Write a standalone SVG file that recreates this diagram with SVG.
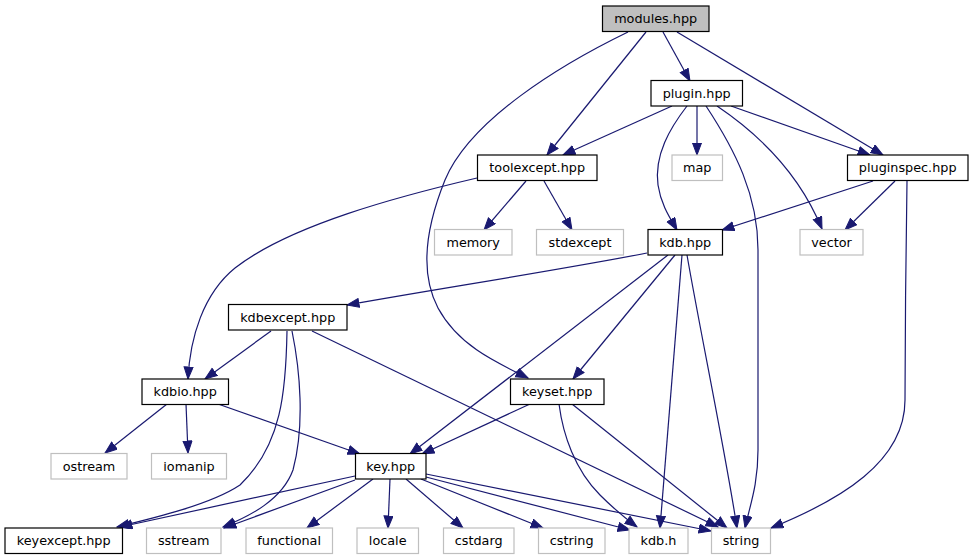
<svg xmlns="http://www.w3.org/2000/svg" width="973" height="560" viewBox="0 0 973 560">
<style>
.n rect{fill:#ffffff;stroke:#000000;stroke-width:1.2}
.n.g rect{stroke:#bfbfbf}
.n.r rect{fill:#bfbfbf}
.n text{font-family:"DejaVu Sans","Liberation Sans",sans-serif;font-size:12.8px;fill:#000000;text-anchor:middle}
#edges path{fill:none;stroke:#191970;stroke-width:1.2;marker-end:url(#a)}
</style>
<defs>
<marker id="a" markerWidth="14" markerHeight="11" refX="12.5" refY="5" orient="auto" markerUnits="userSpaceOnUse">
<path d="M0.5,0.5 L12.5,5 L0.5,9.5 z" fill="#191970" stroke="#191970" stroke-width="1"/>
</marker>
</defs>
<rect width="973" height="560" fill="#ffffff"/>
<g id="edges">
<path d="M628,32 C560,65 470,120 445,180 C428,222 418,270 438,308 C458,345 495,362 528,378"/>
<path d="M646,32 L547,155"/>
<path d="M663,32 L690,81"/>
<path d="M677,32 L883,155"/>
<path d="M672,106 L563,155"/>
<path d="M697,106 L697,155"/>
<path d="M687,106 C670,128 654,155 658,185 C661,205 670,218 677,230"/>
<path d="M706,106 C735,150 758,195 758,250 L758,450 C758,485 750,505 745,528"/>
<path d="M717,106 C760,135 800,175 822,229"/>
<path d="M731,106 L870,155"/>
<path d="M873,181 L722,230"/>
<path d="M895,181 L845,230"/>
<path d="M907,181 C906,250 905,330 905,400 C905,462 840,500 771,528"/>
<path d="M526,181 L484,230"/>
<path d="M544,181 L572,230"/>
<path d="M477,178 C400,196 290,225 235,268 C203,294 190,338 188,379"/>
<path d="M647,253 C560,270 430,290 347,305"/>
<path d="M675,255 L573,379"/>
<path d="M668,255 L410,454"/>
<path d="M682,255 L660,528"/>
<path d="M687,255 C700,330 725,450 737,528"/>
<path d="M271,331 L205,379"/>
<path d="M287,331 C286,390 282,445 240,485 C210,505 150,519 117,527"/>
<path d="M292,331 C300,370 305,425 293,470 C282,500 250,516 223,527"/>
<path d="M312,331 L718,527"/>
<path d="M167,404 L105,453"/>
<path d="M186,404 L188,453"/>
<path d="M218,404 L360,454"/>
<path d="M530,404 L422,454"/>
<path d="M559,404 C563,435 575,470 600,495 C613,508 625,518 637,527"/>
<path d="M572,404 L727,528"/>
<path d="M355,476 L120,527"/>
<path d="M355,480 L224,528"/>
<path d="M373,479 L307,528"/>
<path d="M390,479 L388,528"/>
<path d="M406,479 L463,528"/>
<path d="M421,479 L543,528"/>
<path d="M426,477 L630,530"/>
<path d="M426,474 L711,531"/>
</g>
<g id="modules" class="n r"><rect x="602.5" y="6" width="106.5" height="25.5"/><text x="655.7" y="23">modules.hpp</text></g>
<g id="plugin" class="n"><rect x="651" y="80.5" width="91.5" height="25.5"/><text x="696.7" y="97.5">plugin.hpp</text></g>
<g id="toolexcept" class="n"><rect x="477.5" y="155" width="119.5" height="25.5"/><text x="537.2" y="172">toolexcept.hpp</text></g>
<g id="map" class="n g"><rect x="672" y="155" width="50.5" height="25.5"/><text x="697.2" y="172">map</text></g>
<g id="pluginspec" class="n"><rect x="847.5" y="155" width="120.5" height="25.5"/><text x="907.7" y="172">pluginspec.hpp</text></g>
<g id="memory" class="n g"><rect x="434.5" y="229.5" width="77.5" height="25.5"/><text x="473.2" y="246.5">memory</text></g>
<g id="stdexcept" class="n g"><rect x="536.5" y="229.5" width="87" height="25.5"/><text x="580" y="246.5">stdexcept</text></g>
<g id="kdbhpp" class="n"><rect x="648" y="229.5" width="74.5" height="25.5"/><text x="685.2" y="246.5">kdb.hpp</text></g>
<g id="vector" class="n g"><rect x="800" y="229.5" width="63" height="25.5"/><text x="831.5" y="246.5">vector</text></g>
<g id="kdbexcept" class="n"><rect x="228.5" y="304.5" width="118.5" height="25.5"/><text x="287.7" y="321.5">kdbexcept.hpp</text></g>
<g id="kdbio" class="n"><rect x="142" y="379" width="86.5" height="25.5"/><text x="185.2" y="396">kdbio.hpp</text></g>
<g id="keyset" class="n"><rect x="510.5" y="379" width="93.5" height="25.5"/><text x="557.2" y="396">keyset.hpp</text></g>
<g id="ostream" class="n g"><rect x="51" y="453.5" width="76" height="25.5"/><text x="89" y="470.5">ostream</text></g>
<g id="iomanip" class="n g"><rect x="151.5" y="453.5" width="75" height="25.5"/><text x="189" y="470.5">iomanip</text></g>
<g id="key" class="n"><rect x="355.5" y="453.5" width="70.5" height="25.5"/><text x="390.7" y="470.5">key.hpp</text></g>
<g id="keyexcept" class="n"><rect x="5" y="528" width="117.5" height="25.5"/><text x="63.7" y="545">keyexcept.hpp</text></g>
<g id="sstream" class="n g"><rect x="146.5" y="528" width="74.5" height="25.5"/><text x="183.7" y="545">sstream</text></g>
<g id="functional" class="n g"><rect x="246" y="528" width="86.5" height="25.5"/><text x="289.2" y="545">functional</text></g>
<g id="locale" class="n g"><rect x="357" y="528" width="61.5" height="25.5"/><text x="387.7" y="545">locale</text></g>
<g id="cstdarg" class="n g"><rect x="443.5" y="528" width="70.5" height="25.5"/><text x="478.7" y="545">cstdarg</text></g>
<g id="cstring" class="n g"><rect x="538.5" y="528" width="66.5" height="25.5"/><text x="571.7" y="545">cstring</text></g>
<g id="kdbh" class="n g"><rect x="629" y="528" width="59" height="25.5"/><text x="658.5" y="545">kdb.h</text></g>
<g id="string" class="n g"><rect x="711.5" y="528" width="59" height="25.5"/><text x="741" y="545">string</text></g>
</svg>
